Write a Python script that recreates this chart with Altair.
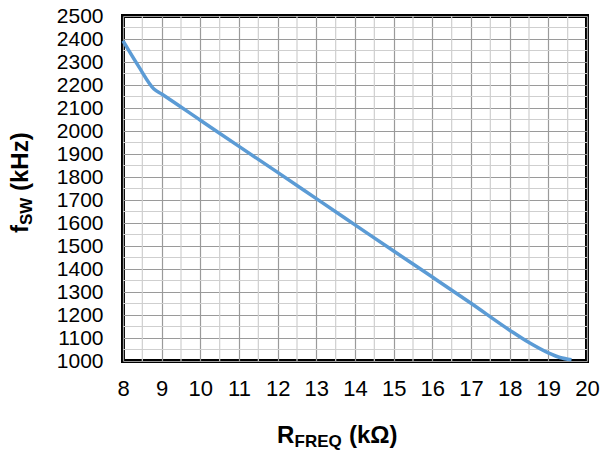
import altair as alt
import pandas as pd

# Data
r_freq = [8.0, 8.4, 8.8, 9.0, 10.0, 11.0, 12.0, 13.0, 14.0, 15.0, 16.0, 17.0, 18.0, 18.5, 19.0, 19.3, 19.6]
f_sw = [2392, 2282, 2183, 2161, 2047, 1933, 1820, 1706, 1592, 1478, 1365, 1251, 1134, 1080, 1035, 1015, 1005]

x_ticks = list(range(8, 21))
y_ticks = list(range(1000, 2501, 100))
x_minor = [v + 0.5 for v in range(8, 20)]
y_minor = [v + 50 for v in range(1000, 2500, 100)]

FONT = "Liberation Sans"

xs = alt.Scale(domain=[8, 20], nice=False, zero=False)
ys = alt.Scale(domain=[1000, 2500], nice=False, zero=False)

x_axis = alt.Axis(values=x_ticks, title=None, grid=True, gridColor="#9a9a9a",
                  gridWidth=1.2, gridOpacity=1, ticks=False, domain=False,
                  labelFont=FONT, labelFontSize=22, labelColor="black",
                  labelPadding=17, labelFlush=False, labelOverlap=False, format="d")
y_axis = alt.Axis(values=y_ticks, title=None, grid=True, gridColor="#9a9a9a",
                  gridWidth=1.2, gridOpacity=1, ticks=False, domain=False,
                  labelFont=FONT, labelFontSize=21, labelColor="black",
                  labelPadding=20, labelFlush=False, labelOverlap=False, format="d")

df = pd.DataFrame({"r": r_freq, "f": f_sw})

minor_v = alt.Chart(pd.DataFrame({"v": x_minor})).mark_rule(color="#cfcfcf", strokeWidth=1.2).encode(
    x=alt.X("v:Q", scale=xs, axis=x_axis))
minor_h = alt.Chart(pd.DataFrame({"v": y_minor})).mark_rule(color="#cfcfcf", strokeWidth=1.2).encode(
    y=alt.Y("v:Q", scale=ys, axis=y_axis))

line = alt.Chart(df).mark_line(color="#5b9bd5", strokeWidth=3.5, interpolate="monotone").encode(
    x=alt.X("r:Q", scale=xs, axis=x_axis),
    y=alt.Y("f:Q", scale=ys, axis=y_axis),
)


def txt(s, x, y, size, angle=0):
    return alt.Chart(pd.DataFrame({"t": [s]})).mark_text(
        font=FONT, fontSize=size, fontWeight="bold", color="black", align="left",
        baseline="alphabetic", angle=angle
    ).encode(x=alt.value(x), y=alt.value(y), text="t:N")


titles = [
    txt("R", 154, 427, 24),
    txt("FREQ", 171.5, 431, 17),
    txt("(kΩ)", 226, 427, 24),
    txt("f", -95, 217, 24, angle=270),
    txt("SW", -91, 209, 17, angle=270),
    txt("(kHz)", -95, 175, 24, angle=270),
]

chart = alt.layer(minor_v, minor_h, line, *titles).properties(
    width=464, height=345,
    autosize=alt.AutoSizeParams(type="none"),
    padding={"left": 123, "top": 16, "right": 13, "bottom": 94},
).configure_view(stroke="black", strokeWidth=4)

chart.save("out.html", embed_options={"renderer": "svg", "actions": False})
